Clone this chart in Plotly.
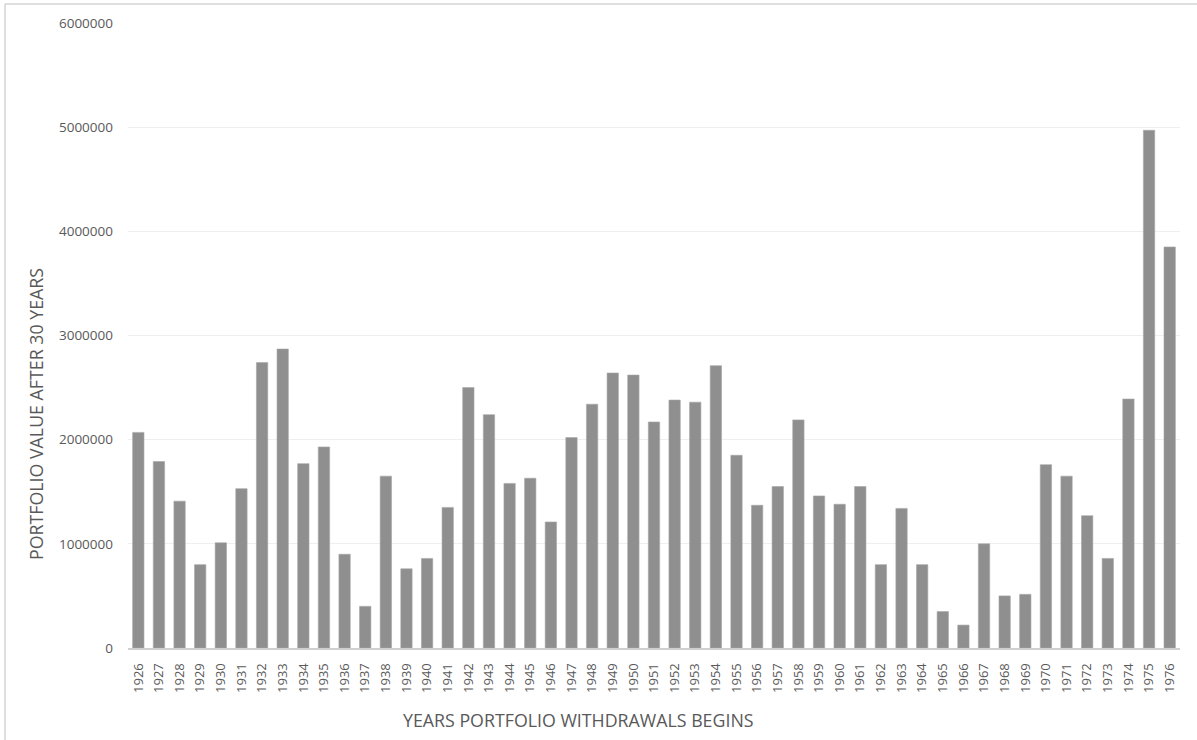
import plotly.graph_objects as go

# Starting year of withdrawals and the portfolio value left after 30 years
years = [str(y) for y in range(1926, 1977)]
values = [
    2070000, 1790000, 1410000, 800000, 1010000, 1530000, 2740000, 2870000,
    1770000, 1930000, 900000, 400000, 1650000, 760000, 860000, 1350000,
    2500000, 2240000, 1580000, 1630000, 1210000, 2020000, 2340000, 2640000,
    2620000, 2170000, 2380000, 2360000, 2710000, 1850000, 1370000, 1550000,
    2190000, 1460000, 1380000, 1550000, 800000, 1340000, 800000, 350000,
    220000, 1000000, 500000, 515000, 1760000, 1650000, 1270000, 860000,
    2390000, 4970000, 3850000,
]
y_ticks = [0, 1000000, 2000000, 3000000, 4000000, 5000000, 6000000]
x_title = "YEARS PORTFOLIO WITHDRAWALS BEGINS"
y_title = "PORTFOLIO VALUE AFTER 30 YEARS"

W, H = 1197, 740
L, R, T, B = 128, 17, 23, 92
pw, ph = W - L - R, H - T - B


def px_x(p):
    return (p - L) / pw


def px_y(p):
    return (H - B - p) / ph


TEXT = "#595959"
FONT = "Open Sans"

fig = go.Figure(
    go.Bar(
        x=years,
        y=values,
        marker=dict(color="#8f8f8f", line=dict(color="#a6a6a6", width=0.6)),
        hoverinfo="x+y",
    )
)

fig.update_layout(
    width=W,
    height=H,
    margin=dict(l=L, r=R, t=T, b=B),
    paper_bgcolor="white",
    plot_bgcolor="white",
    bargap=0.45,
    showlegend=False,
    font=dict(family=FONT, color=TEXT),
    xaxis=dict(
        type="category",
        range=[-0.5, len(years) - 0.5],
        tickangle=-90,
        tickfont=dict(size=13, color=TEXT, family=FONT),
        showgrid=False,
        showline=True,
        linecolor="#d0d0d0",
        linewidth=2,
        ticks="",
        ticklabelstandoff=8,
    ),
    yaxis=dict(
        range=[0, 6000000],
        tickvals=y_ticks,
        ticktext=[str(v) for v in y_ticks],
        tickfont=dict(size=13.5, color=TEXT, family=FONT),
        showgrid=True,
        gridcolor="#efefef",
        gridwidth=1,
        zeroline=False,
        showline=False,
        ticks="",
        ticklabelstandoff=14,
    ),
    shapes=[
        # frame of the chart area (left and top edges)
        dict(type="line", xref="paper", yref="paper",
             x0=px_x(5), x1=px_x(5), y0=px_y(4), y1=px_y(H + 5),
             line=dict(color="#d4d4d4", width=1.5)),
        dict(type="line", xref="paper", yref="paper",
             x0=px_x(5), x1=px_x(W + 5), y0=px_y(4), y1=px_y(4),
             line=dict(color="#d4d4d4", width=1.5)),
    ],
    annotations=[
        dict(text=x_title, xref="paper", yref="paper",
             x=px_x(578), y=px_y(720), xanchor="center", yanchor="middle",
             showarrow=False, font=dict(size=17.8, color=TEXT, family=FONT)),
        dict(text=y_title, xref="paper", yref="paper",
             x=px_x(36), y=px_y(414), xanchor="center", yanchor="middle",
             textangle=-90, showarrow=False,
             font=dict(size=17.8, color=TEXT, family=FONT)),
    ],
)

fig.write_html("out.html")
